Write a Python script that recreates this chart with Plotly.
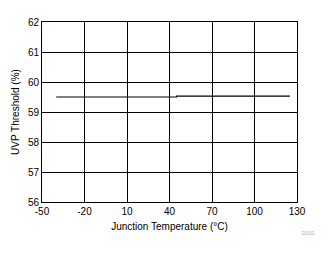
import plotly.graph_objects as go

temps = [-40, 45, 45, 125]
uvp = [59.50, 59.50, 59.53, 59.53]
x_ticks = [-50, -20, 10, 40, 70, 100, 130]
y_ticks = [56, 57, 58, 59, 60, 61, 62]

fig = go.Figure()
fig.add_trace(go.Scatter(x=temps, y=uvp, mode="lines",
                         line=dict(color="black", width=1.2), showlegend=False))

font = dict(family="Liberation Sans, Arial, sans-serif", size=10, color="black")
axis_common = dict(showgrid=True, gridcolor="black", gridwidth=1,
                   showline=True, linecolor="black", linewidth=1, mirror=True,
                   zeroline=False, ticks="", tickfont=font)

fig.update_layout(
    width=330, height=254,
    margin=dict(l=42, r=33, t=22, b=52),
    paper_bgcolor="white", plot_bgcolor="white",
    font=font,
    xaxis=dict(range=[-50, 130], tickvals=x_ticks, ticktext=[str(v) for v in x_ticks],
               title=dict(text="Junction Temperature (°C)", font=font, standoff=6),
               **axis_common),
    yaxis=dict(range=[56, 62], tickvals=y_ticks, ticktext=[str(v) for v in y_ticks],
               title=dict(text="UVP Threshold (%)", font=font, standoff=6),
               **axis_common),
)
fig.add_annotation(text="D010", xref="paper", yref="paper", x=1.045, y=-0.17,
                   showarrow=False, xanchor="center", yanchor="middle",
                   font=dict(family="Liberation Sans, Arial, sans-serif", size=5, color="#aaaaaa"))

fig.write_html("out.html")
